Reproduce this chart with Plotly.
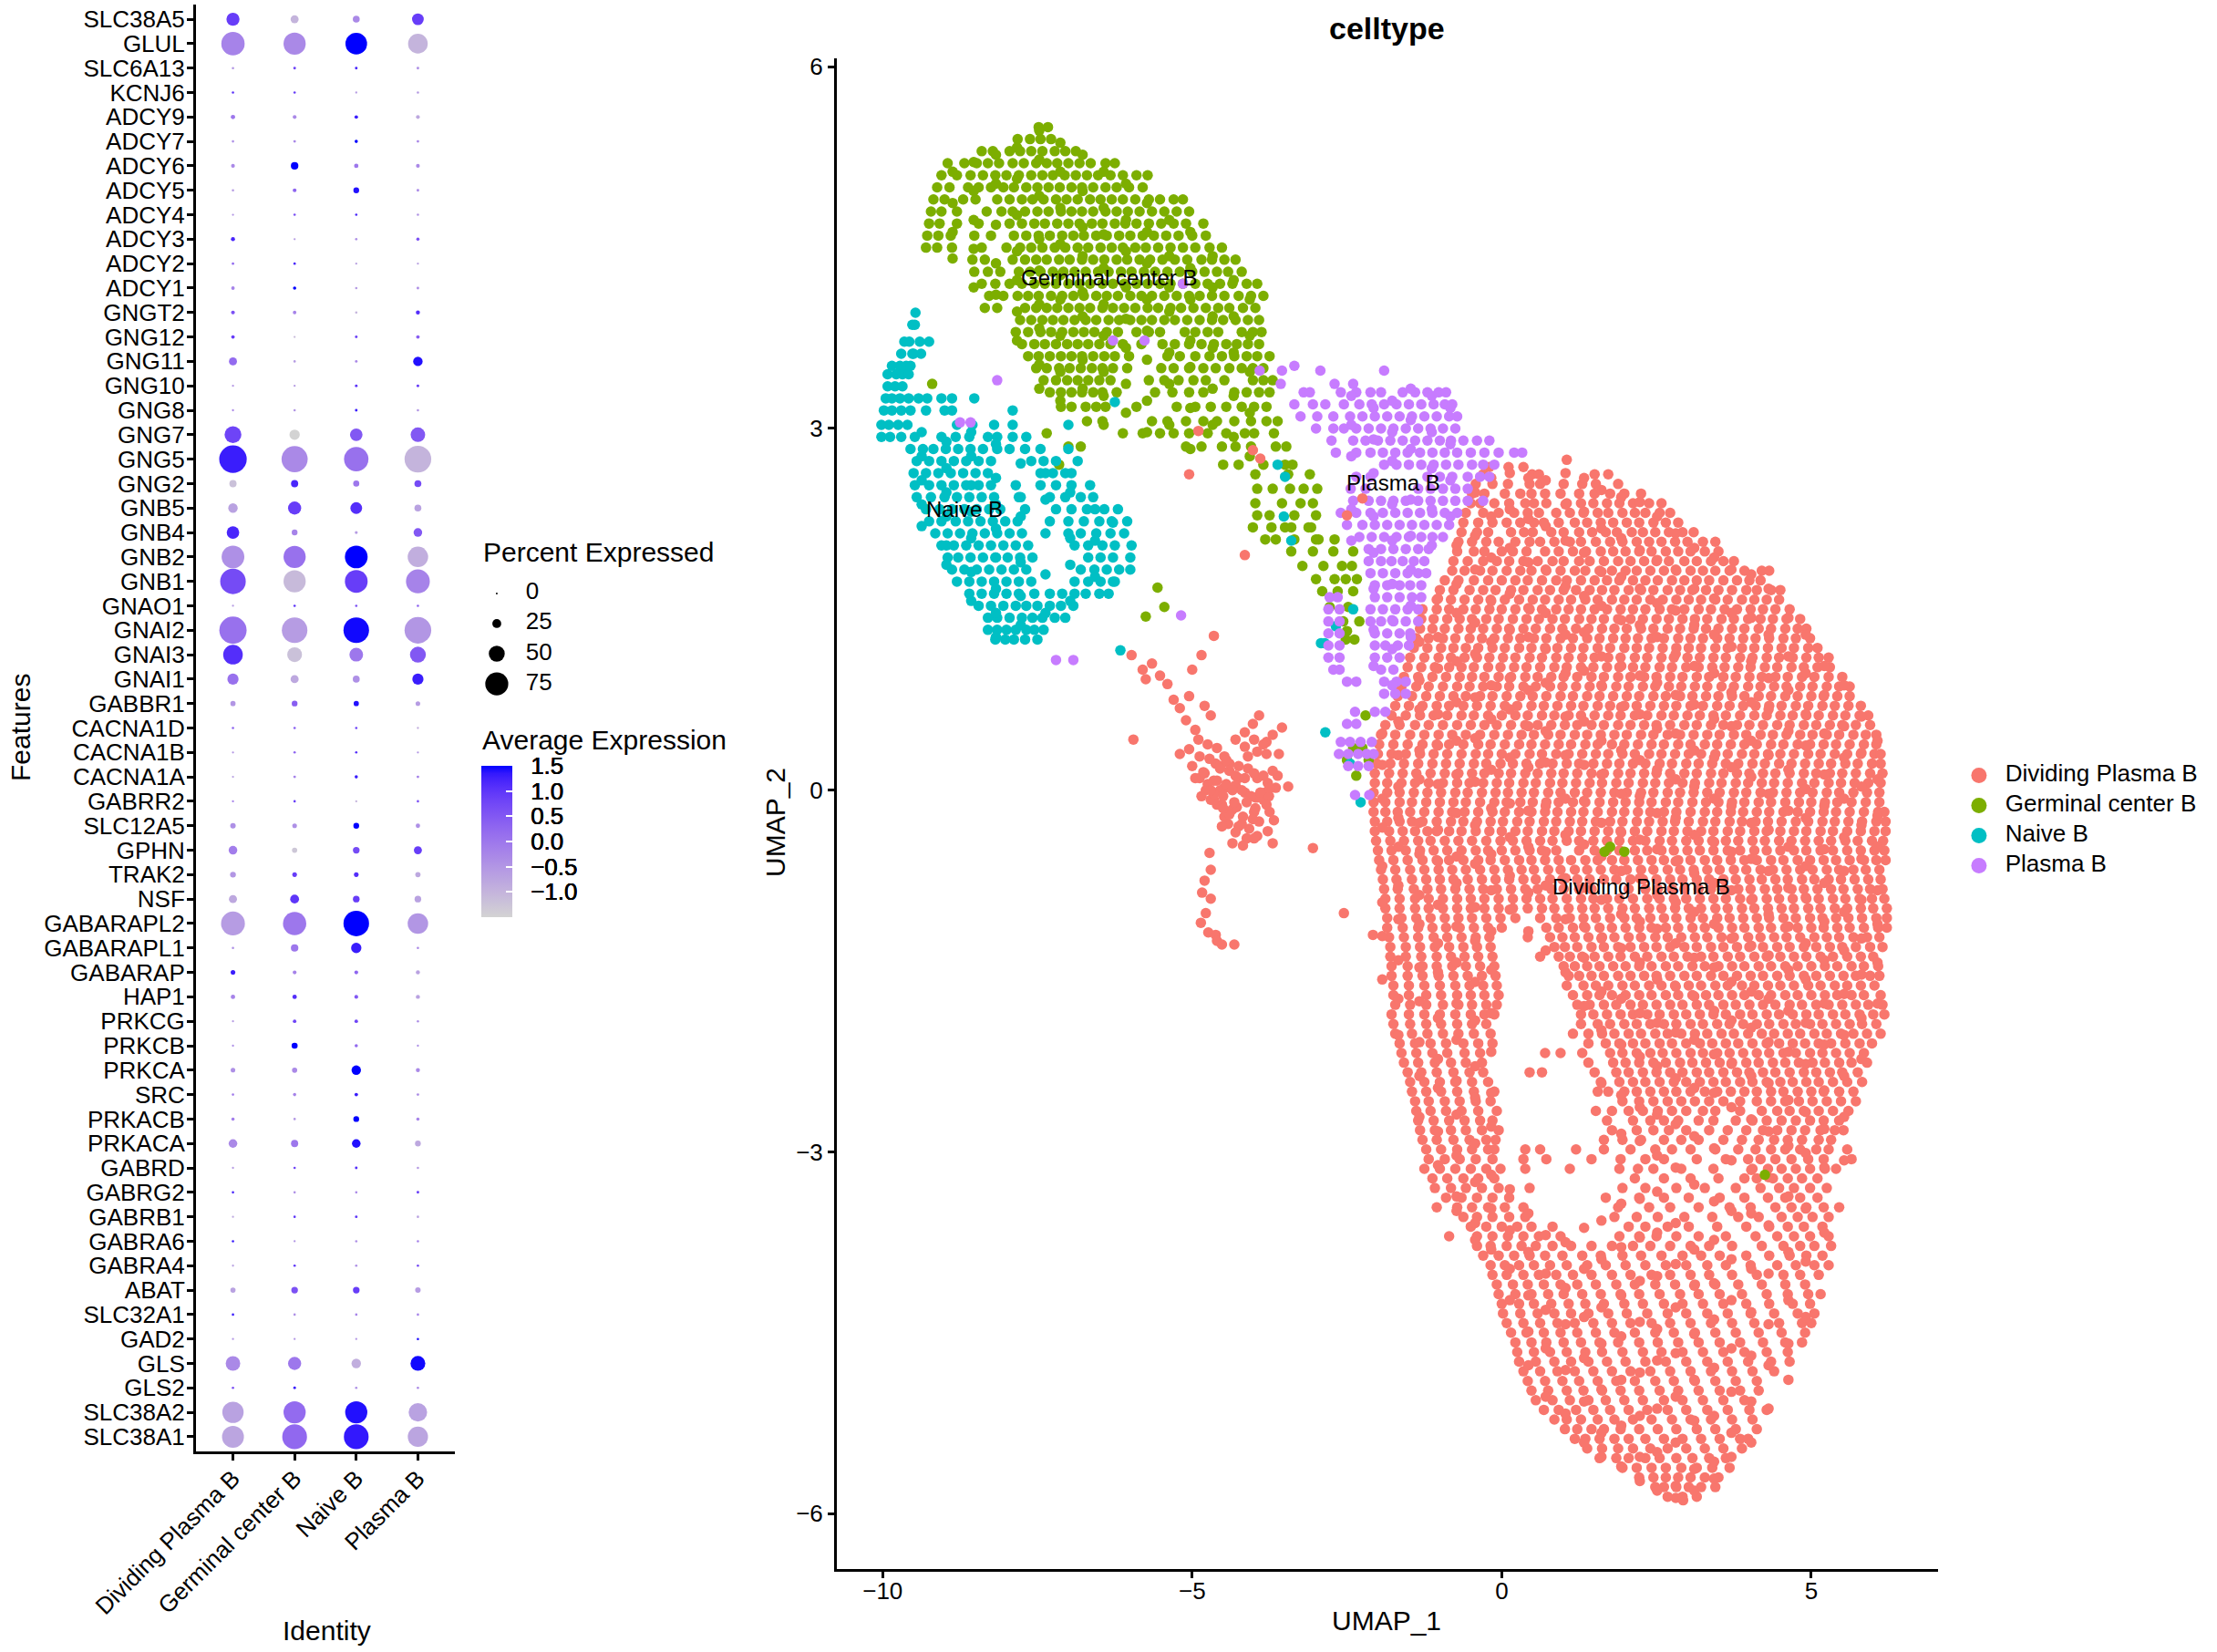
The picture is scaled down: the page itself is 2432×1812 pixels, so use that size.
import plotly.graph_objects as go

# ---------- Dot plot data ----------
identities = ["Dividing Plasma B", "Germinal center B", "Naive B", "Plasma B"]
genes = ["SLC38A5","GLUL","SLC6A13","KCNJ6","ADCY9","ADCY7","ADCY6","ADCY5","ADCY4","ADCY3","ADCY2","ADCY1",
         "GNGT2","GNG12","GNG11","GNG10","GNG8","GNG7","GNG5","GNG2","GNB5","GNB4","GNB2","GNB1","GNAO1",
         "GNAI2","GNAI3","GNAI1","GABBR1","CACNA1D","CACNA1B","CACNA1A","GABRR2","SLC12A5","GPHN","TRAK2",
         "NSF","GABARAPL2","GABARAPL1","GABARAP","HAP1","PRKCG","PRKCB","PRKCA","SRC","PRKACB","PRKACA",
         "GABRD","GABRG2","GABRB1","GABRA6","GABRA4","ABAT","SLC32A1","GAD2","GLS","GLS2","SLC38A2","SLC38A1"]
pct_dividing = [40,76,2,2,9,2,7,2,1,8,2,6,7,6,22,1,1,53,91,19,27,38,74,84,1,90,63,33,12,2,1,1,1,13,24,14,22,78,2,10,9,1,1,10,2,5,24,1,2,1,2,1,12,2,1,45,2,69,71]
pct_germinal = [22,72,3,2,7,3,20,7,2,1,2,5,6,1,2,1,2,30,86,19,40,14,72,72,2,84,46,22,14,2,2,3,2,10,12,10,25,76,20,7,9,6,15,12,5,2,19,2,2,2,1,2,17,2,1,40,3,72,81]
pct_naive = [18,70,3,1,6,5,9,14,2,2,1,2,2,3,3,3,3,38,80,15,35,4,74,74,2,84,42,18,12,2,2,5,1,14,17,10,17,84,30,7,7,6,5,27,6,14,24,3,2,3,2,2,17,2,1,27,2,72,81]
pct_plasma = [35,63,3,2,7,3,7,3,2,5,1,3,8,6,27,3,2,45,88,18,18,24,66,78,2,88,50,33,10,1,1,3,2,9,22,12,17,66,2,8,8,2,1,8,3,5,14,2,3,2,2,2,13,2,2,46,2,59,65]
avg_dividing = [.9,-.2,-.5,1.0,0,-.4,-.3,-.6,-.5,1.2,.2,-.2,.6,.9,.2,-.5,-.3,.8,1.3,-1.2,-.7,1.2,-.4,.7,-.6,.1,1.1,.1,-.5,.3,-.5,-.7,-.2,-.4,-.1,-.5,-.8,-.6,-.4,1.3,-.2,-.6,-.4,-.4,-.1,-.1,-.3,-.6,1.2,-.8,1.3,-.7,-.7,1.3,-.5,-.3,.6,-.7,-.75]
avg_germinal = [-1.0,-.3,.8,.9,-.3,-.3,1.5,.3,.6,-.6,1.2,1.5,-.2,-1.1,-.6,-.6,-.5,-1.5,-.3,1.2,.9,-.2,.1,-1.1,1.0,-.6,-1.2,-.8,.4,.4,.3,-.2,.9,-.4,-1.3,.9,1.0,0,0,-.2,1.1,.8,1.5,-.3,-.2,-.5,0,.8,-.4,1.0,-.5,1.0,.6,-.4,-.5,0,1.3,.2,.25]
avg_naive = [-.3,1.5,1.2,-.6,1.3,1.5,0,1.4,1.2,-.4,-.7,-.6,-1.0,.8,-.3,1.0,1.3,.5,.1,0,1.1,-.6,1.5,.9,.6,1.45,0,-.4,1.4,.8,1.1,1.3,-1.0,1.5,.7,1.1,.9,1.5,1.3,.3,.5,.8,.2,1.5,1.3,1.5,1.4,1.1,-.3,1.0,-.4,-.4,.9,-.2,-.5,-.9,-.4,1.4,1.35]
avg_plasma = [.9,-1.0,-.4,-.6,-.8,-.3,-.3,-.3,-.5,.6,-.7,-.4,1.1,.4,1.4,.9,-.5,.5,-1.0,.7,-.7,.5,-.9,-.2,.3,-.5,.5,1.3,-.6,-.9,-.5,-.2,.6,-.4,.9,-.8,-.7,-.5,-.3,-.7,-.7,-.4,-.4,-.3,-.4,-.2,-.8,-.6,.9,-.7,-.2,.7,-.6,-.2,1.4,1.45,-.3,-.7,-.75]
legend_pct = [0, 25, 50, 75]

# ---------- UMAP data: rows of (UMAP_2, [UMAP_1 ...]) and columns of (UMAP_1, [UMAP_2 ...]), in hundredths ----------
dividing_rows = [
(274,[105]),(268,[-20,11,35]),(262,[-30,49,60,150,172]),
(254,[-42,-15,10,45,62,100,130,152,188]),
(246,[-48,-28,5,30,48,70,95,125,150,175,198,225]),
(238,[-50,-35,-12,12,38,52,72,105,128,148,170,190,212,238,258]),
(230,[-58,-30,-5,20,42,60,88,110,132,155,172,195,215,232,255,272]),
(222,[-62,-38,-15,8,30,52,68,92,118,138,160,180,202,222,245,265,285]),
(214,[-65,-40,-22,15,36,50,80,100,125,146,168,186,210,228,248,270,292,310]),
(206,[-70,-48,-25,-5,22,45,62,85,110,128,152,175,195,218,238,258,280,300,325,345]),
(198,[-72,-45,-28,0,18,40,70,92,115,136,160,180,200,222,242,265,285,305,328,350]),
(190,[-78,-55,-30,-8,12,35,58,82,100,125,142,165,188,208,230,250,270,295,315,338,358,375]),
(182,[-80,-60,-35,-15,8,30,48,72,95,118,135,158,178,200,218,240,262,282,305,325,345,368,392,420,432]),
(174,[-92,-70,-45,-22,0,22,42,65,88,105,128,150,170,190,212,232,252,275,295,315,335,358,380,400,418]),
(166,[-100,-78,-52,-30,-10,15,35,58,78,100,120,142,162,182,205,225,245,268,288,308,330,350,372,395,412,435,450]),
(158,[-105,-82,-60,-38,-18,5,28,50,70,92,112,135,155,178,198,218,240,260,282,302,322,345,365,388,408,428,448]),
(150,[-128,-105,-85,-62,-42,-20,0,22,45,65,88,108,128,150,170,192,212,232,255,275,295,318,338,360,380,402,422,442,465]),
(142,[-130,-110,-88,-68,-48,-25,-5,18,40,60,82,102,125,145,165,188,208,228,250,270,292,312,332,355,375,398,418,438,460,482]),
(134,[-132,-112,-92,-70,-50,-30,-8,12,35,55,78,98,120,140,162,182,202,225,245,268,288,310,330,350,372,392,415,435,458,478,492]),
(126,[-138,-118,-95,-75,-52,-32,-12,10,30,52,72,95,115,138,158,180,200,220,242,262,285,305,325,348,368,390,410,432,455,475,498]),
(118,[-142,-120,-98,-78,-58,-38,-15,5,28,48,70,90,112,132,155,175,198,218,238,260,282,302,322,345,365,388,408,430,452,472,495,510]),
(110,[-148,-125,-102,-82,-60,-40,-20,2,22,45,65,88,108,130,150,172,192,215,235,258,278,300,320,342,362,385,405,428,448,470,492,512,528]),
(102,[-152,-130,-108,-85,-65,-45,-22,-2,20,40,62,85,105,128,148,170,190,212,232,255,275,298,318,340,360,382,402,425,445,468,488,510,530]),
(94,[-158,-135,-112,-90,-68,-48,-28,-5,15,38,58,80,100,122,145,165,188,208,230,250,272,292,315,335,358,378,400,420,442,462,485,505,528,550]),
(86,[-162,-138,-118,-95,-72,-52,-30,-8,12,35,55,78,98,120,142,162,185,205,228,248,270,290,312,332,355,375,398,418,440,460,482,502,525,545,562]),
(78,[-168,-145,-122,-100,-78,-58,-35,-15,8,30,50,72,95,115,138,158,180,202,222,245,265,288,308,330,350,372,392,415,435,458,478,500,520,542,562]),
(70,[-172,-150,-128,-105,-85,-62,-40,-18,5,25,48,68,90,112,132,155,175,198,218,240,262,282,305,325,348,368,390,410,432,452,475,495,518,538,560,580]),
(62,[-178,-155,-132,-110,-88,-65,-45,-22,0,22,42,65,85,108,128,150,172,192,215,235,258,278,300,320,342,362,385,408,428,450,470,492,512,535,555,578,592]),
(54,[-188,-165,-140,-118,-95,-72,-50,-28,-8,15,38,58,80,102,122,145,165,188,208,230,250,272,295,315,338,358,380,400,422,445,465,488,508,530,550,572,595]),
(46,[-195,-172,-148,-125,-102,-80,-58,-35,-12,10,32,52,75,95,118,138,160,182,202,225,245,268,288,310,332,352,375,395,418,438,460,482,502,525,545,568,588,605]),
(38,[-198,-175,-152,-128,-105,-85,-62,-38,-18,5,28,48,70,92,112,135,155,178,198,220,242,262,285,305,328,348,370,392,412,435,455,478,498,520,540,562,585,605]),
(30,[-200,-178,-155,-132,-110,-88,-65,-42,-22,0,22,45,65,88,108,130,152,172,195,215,238,258,280,302,322,345,365,388,408,430,450,472,495,515,538,558,580,602,612]),
(22,[-202,-180,-158,-135,-112,-90,-68,-45,-25,-2,18,40,62,82,105,125,148,170,190,212,232,255,275,298,318,340,362,382,405,425,448,468,490,512,532,555,575,598,612]),
(14,[-205,-182,-160,-138,-115,-92,-70,-48,-28,-5,15,38,58,80,100,122,145,165,188,208,230,250,272,295,315,338,358,380,400,422,442,465,488,508,530,550,572,595,615]),
(6,[-205,-185,-162,-140,-118,-95,-72,-52,-30,-8,12,35,55,78,98,120,142,162,185,205,228,248,270,292,312,335,355,378,398,420,440,462,485,505,528,548,570,592,612]),
(-2,[-207,-185,-165,-142,-120,-98,-75,-55,-32,-10,10,32,52,75,95,118,138,160,182,202,225,245,268,288,310,332,352,375,395,418,438,460,482,502,525,545,568,590,610]),
(-10,[-207,-188,-165,-145,-122,-100,-78,-58,-35,-12,8,30,50,72,92,115,135,158,180,200,222,242,265,285,308,330,350,372,392,415,435,458,480,500,522,542,565,588,610]),
(-18,[-207,-188,-168,-148,-125,-102,-80,-60,-38,-15,5,28,48,70,90,112,132,155,178,198,220,240,262,282,305,328,348,370,390,412,432,455,478,498,520,540,562,585,608,618]),
(-26,[-205,-185,-165,-145,-128,-105,-82,-62,-40,-18,2,25,45,68,88,110,130,152,175,195,218,238,260,280,302,325,345,368,388,410,430,452,475,495,518,538,560,582,605,620]),
(-34,[-205,-182,-160,-140,-120,-105,-85,-65,-42,-20,0,22,42,65,85,108,128,150,172,192,215,235,258,278,300,322,342,365,385,408,428,450,472,492,515,535,558,580,602,620]),
(-42,[-203,-180,-158,-135,-115,-92,-70,-48,-25,-2,18,40,62,82,105,125,148,170,190,212,232,255,275,298,318,340,362,382,405,425,448,468,490,512,532,555,575,598,616]),
(-50,[-200,-178,-155,-132,-110,-88,-65,-42,-22,0,22,45,65,88,125,150,170,190,215,235,258,278,300,320,342,365,385,408,428,450,472,492,515,535,558,580,602,618]),
(-58,[-198,-175,-152,-128,-105,-85,-62,-38,-18,5,28,48,70,92,112,135,155,178,198,220,242,262,285,305,328,348,370,392,412,435,455,478,498,520,540,562,585,605,620]),
(-66,[-195,-172,-148,-125,-102,-80,-58,-35,-12,10,32,52,75,95,118,138,160,182,202,225,245,268,288,310,332,352,375,395,418,438,460,482,502,525,545,568,588,610]),
(-74,[-192,-170,-145,-122,-100,-78,-55,-32,-10,12,35,55,78,98,122,142,165,185,208,228,250,272,292,315,335,358,378,400,420,442,462,485,505,528,548,570,592,612]),
(-82,[-190,-168,-142,-120,-98,-75,-52,-30,-8,15,38,58,80,100,125,145,205,232,252,275,295,318,338,360,382,402,425,445,468,488,510,532,552,575,595,615]),
(-90,[-188,-165,-140,-118,-95,-72,-50,-28,-5,18,40,62,82,105,128,148,170,190,212,235,255,278,298,320,342,362,385,405,428,448,470,492,512,535,555,578,598,618]),
(-98,[-188,-165,-140,-118,-95,-72,-50,-28,-5,18,42,65,85,108,130,150,172,195,215,238,258,280,302,322,345,365,388,408,430,452,472,495,515,538,558,580,600,622]),
(-106,[-185,-162,-138,-115,-92,-70,-48,-25,-2,22,62,88,110,132,152,175,198,218,240,262,282,305,325,348,368,390,412,432,455,475,498,518,540,560,582,605,622]),
(-114,[-185,-160,-135,-112,-90,-68,-45,-22,0,72,92,115,135,158,178,200,222,242,265,285,308,328,350,372,392,415,435,458,478,500,520,542,562,585,608,622]),
(-122,[-182,-158,-135,-110,-88,-65,-42,-20,42,78,98,118,140,162,182,205,225,248,268,290,312,332,355,375,398,418,440,460,482,505,525,545,568,590,610]),
(-130,[-180,-155,-132,-108,-85,-62,-40,-18,85,102,122,145,165,188,208,230,250,272,295,315,338,358,380,400,422,445,465,488,508,530,550,572,595,615]),
(-138,[-180,-155,-130,-105,-82,-60,-38,-15,62,92,110,130,150,172,192,215,235,258,278,300,322,342,365,385,408,428,450,472,492,515,535,558,580,600]),
(-146,[-178,-152,-128,-105,-80,-58,-35,-12,100,118,138,158,180,200,222,242,265,285,308,328,350,372,392,415,435,458,478,500,522,542,565,585,608]),
(-154,[-178,-152,-128,-102,-78,-55,-32,-10,108,125,145,165,188,208,230,250,272,295,315,338,358,380,402,422,445,465,488,508,530,552,572,595,610]),
(-162,[-175,-150,-125,-100,-75,-52,-30,-8,105,132,152,172,195,215,238,258,280,302,322,345,365,388,408,430,450,472,495,515,538,558,580,602]),
(-170,[-175,-150,-122,-98,-72,-50,-28,-5,115,138,158,178,200,222,242,265,285,308,330,350,372,392,415,435,458,478,500,522,542,565,585,612]),
(-178,[-172,-148,-122,-95,-70,-48,-25,-8,122,142,165,185,208,228,250,272,292,315,335,358,378,400,422,442,465,485,508,528,550,572,592,615]),
(-186,[-178,-150,-125,-100,-75,-50,-28,-12,128,148,170,192,212,235,255,278,298,320,342,362,385,405,428,448,470,492,512,535,555,578,600,618]),
(-194,[-175,-148,-122,-98,-72,-48,-25,128,155,175,198,218,240,262,282,305,325,348,368,390,412,432,455,475,498,518,540,562,582,605]),
(-202,[-172,-145,-120,-95,-70,-45,-18,115,140,162,182,205,225,248,268,290,312,332,355,375,398,420,440,462,482,505,525,548,568,590,612]),
(-210,[-165,-140,-115,-90,-62,-38,-15,140,168,190,212,232,255,275,298,320,340,362,382,405,428,448,470,490,512,532,555,578,598]),
(-218,[-162,-138,-112,-88,-60,-35,70,95,130,175,195,218,240,260,282,305,325,348,368,390,412,432,455,475,498,518,540,562,585]),
(-226,[-158,-135,-108,-82,-58,-32,140,180,200,222,245,265,288,308,330,352,372,395,415,438,458,480,502,522,545,565,590]),
(-234,[-152,-130,-105,-78,-52,-30,45,65,150,185,205,228,250,272,292,315,335,358,380,400,422,442,465,488,508,530,550,575]),
(-242,[-148,-125,-100,-75,-48,-22,160,190,212,232,255,278,298,320,342,362,385,405,428,450,470,492,512,535,558,582]),
(-250,[-145,-122,-98,-72,-45,-12,155,172,198,218,240,262,282,305,328,348,370,392,412,435,455,478,500,520,545,568]),
(-258,[-140,-118,-92,-68,-42,-18,195,222,245,268,290,312,335,358,385,412,435,458,480,502,525,548,572]),
(-266,[-138,-115,-90,-65,-38,-8,152,178,205,228,252,275,298,325,345,385,420,445,465,488,512,535,560]),
(-274,[-135,-110,-85,-60,-35,-15,170,212,240,262,285,318,342,378,405,428,452,475,498,520,545]),
(-282,[-132,-108,-82,-58,-32,-5,178,218,245,270,298,335,365,395,422,445,468,490,515,538,552]),
(-290,[-128,-105,-78,-52,-25,-10,165,195,225,262,290,318,358,388,415,440,462,485,512,532]),
(-298,[-122,-98,-72,-48,-22,-12,38,62,120,165,208,248,275,305,345,382,410,435,458,482,508,528,558]),
(-306,[-118,-92,-68,-42,-15,35,72,145,192,232,262,315,362,398,418,442,468,495,520,565]),
(-314,[-125,-100,-75,-50,-25,-2,38,110,190,220,245,290,342,405,430,452,475,498,522,540]),
(-322,[-112,-88,-62,-38,-12,215,262,305,350,392,412,438,462,485,510]),
(-330,[-108,-82,-58,-32,-5,45,195,232,282,328,378,418,448,472,498,525]),
(-338,[-90,-65,-40,-15,12,168,222,262,302,352,392,430,458,482,510]),
(-346,[-105,-72,-48,-22,5,35,188,238,272,318,368,402,442,468,492,520,545]),
(-354,[-62,-40,-15,12,38,182,218,252,295,340,382,415,452,478,502,528]),
(-362,[-50,-25,0,25,48,82,205,232,268,302,348,395,432,462,488,518]),
(-370,[-85,-40,-15,10,35,60,95,190,222,250,282,318,362,410,445,472,498,528]),
(-378,[-40,-18,8,32,55,82,112,145,178,212,240,272,305,335,372,420,455,482,505,532]),
(-386,[-30,-5,20,45,70,98,130,160,195,225,258,292,322,352,395,432,465,492,518]),
(-394,[-18,5,28,52,78,105,138,168,200,232,265,298,332,362,402,445,475,505,528]),
(-402,[-15,8,35,60,88,115,145,178,208,242,272,305,335,372,412,455,482,512]),
(-410,[-8,18,42,68,95,122,152,185,215,248,280,312,345,382,420,458,490]),
(-418,[-5,22,48,75,100,130,160,192,222,255,288,318,352,388,428,462,495,515]),
(-426,[0,28,52,80,108,135,165,198,228,262,292,325,358,395,432,470,498]),
(-434,[2,30,58,85,112,140,172,202,235,268,298,332,365,402,440,478,505]),
(-442,[8,35,62,90,118,148,178,208,242,272,305,338,372,408,448,485,500]),
(-450,[15,40,68,95,122,152,182,215,248,278,312,345,378,415,452,490]),
(-458,[22,48,72,100,128,158,188,222,252,285,318,352,385,422,458,485]),
(-466,[25,52,78,105,135,162,195,228,258,292,325,358,392,428,462]),
(-474,[28,55,85,112,140,170,200,232,265,298,332,365,398,435,465]),
(-482,[35,62,90,118,148,178,208,240,272,305,338,372,405,440]),
(-490,[42,70,98,125,155,185,215,248,278,312,345,378,412]),
(-498,[48,75,105,132,162,192,222,255,285,318,352,385,415]),
(-506,[55,82,110,140,168,198,228,262,292,325,358,392]),
(-514,[68,92,120,148,175,205,235,268,298,332,365,400,428]),
(-522,[85,105,128,155,182,212,242,275,305,338,372,405]),
(-530,[102,122,145,165,192,222,252,282,315,345,378,412]),
(-538,[118,135,158,182,205,232,262,292,322,352,385,398]),
(-546,[138,162,188,212,240,268,298,328,358,388]),
(-554,[158,185,205,232,255,282,308,335,362]),
(-562,[195,218,242,265,290,315,340,368]),
(-570,[222,245,265,285,305,328,350]),
(-578,[248,262,282,302,322,345]),
(-586,[268,292,315]),(-589,[293]),
]
dividing_cols = [
(-193,[47,21,-7,-31,-63,-93,-121,-157]),
(-167,[83,57,29,3,-23,-47,-79,-107,-141,-173,-203]),
(-133,[123,91,67,33,9,-27,-53,-87,-111,-147,-175,-209,-237,-271]),
(-103,[159,127,101,63,37,5,-33,-59,-95,-127,-151,-189,-223,-247,-283,-311]),
(-73,[203,171,147,107,73,41,13,-19,-55,-77,-113,-143,-177,-207,-241,-269,-303,-337,-349]),
(-43,[247,211,183,139,113,77,43,7,-29,-61,-97,-125,-159,-191,-229,-255,-293,-325,-359,-373]),
(-17,[259,227,193,157,123,87,59,17,-15,-53,-83,-117,-149,-185,-217,-251,-279,-319,-347,-381]),
(13,[263,233,201,163,133,93,67,27,-11,-39,-71,-99,-331,-365,-397,-423]),
(43,[259,225,189,151,127,83,53,19,-17,-47,-85,-117,-351,-383,-419,-449,-477]),
(71,[257,219,183,147,117,89,49,23,-13,-51,-79,-133,-369,-401,-431,-463,-503]),
(103,[263,237,207,169,129,97,61,29,-7,-37,-73,-107,-151,-375,-413,-443,-481,-517]),
(133,[259,231,197,161,131,99,57,21,-9,-45,-81,-113,-139,-179,-363,-397,-437,-471,-507,-541]),
(161,[249,217,181,153,111,87,41,13,-27,-55,-91,-123,-167,-199,-243,-357,-389,-429,-459,-497,-533,-553]),
(193,[243,209,177,141,103,69,33,-3,-35,-67,-103,-131,-173,-211,-253,-285,-343,-379,-419,-453,-489,-527,-561]),
(223,[239,199,167,137,95,63,25,-5,-41,-73,-109,-143,-185,-221,-263,-291,-339,-371,-407,-441,-483,-519,-553,-573]),
(251,[227,191,155,127,89,51,17,-19,-49,-87,-115,-157,-193,-229,-269,-303,-333,-367,-403,-447,-473,-513,-549,-581]),
(281,[213,183,149,113,79,47,9,-23,-59,-93,-127,-163,-201,-239,-277,-313,-359,-393,-429,-467,-503,-541,-577,-587]),
(311,[201,167,137,103,71,33,3,-37,-69,-101,-139,-171,-207,-247,-287,-327,-381,-411,-451,-489,-523,-563,-581]),
(343,[193,159,129,97,59,27,-7,-43,-77,-111,-147,-183,-219,-251,-297,-341,-373,-409,-439,-479,-519,-557,-571]),
(371,[183,147,119,81,53,19,-13,-51,-83,-123,-159,-191,-227,-263,-307,-349,-389,-423,-463,-499,-533,-553]),
(403,[179,143,107,73,41,11,-27,-57,-91,-129,-167,-197,-237,-273,-315,-351,-397,-433,-469,-507,-541]),
(431,[167,129,93,67,29,-3,-33,-67,-103,-137,-173,-209,-243,-283,-321,-361,-401,-443,-477,-513]),
(463,[143,111,83,49,17,-17,-47,-81,-113,-149,-183,-217,-257,-295,-337,-383,-423,-459,-489]),
(491,[129,97,63,37,1,-23,-63,-89,-127,-157,-193,-227,-267,-301,-347,-391,-437]),
(521,[103,79,47,13,-13,-49,-77,-109,-141,-177,-211,-249,-281,-313,-367]),
(553,[87,53,27,-7,-39,-67,-101,-133,-169,-203,-237,-271,-307]),
(581,[61,31,3,-29,-57,-91,-123,-153,-189,-223]),
(607,[41,9,-21,-47,-83,-111,-143,-177]),
]
germinal_rows = [
(550,[-748,-733]),(540,[-782,-762,-745,-728]),
(530,[-840,-822,-795,-778,-760,-742,-722,-705,-688]),
(520,[-895,-868,-848,-830,-812,-790,-772,-752,-735,-718,-700,-682,-664,-640,-625]),
(510,[-905,-880,-858,-838,-818,-800,-780,-760,-742,-725,-706,-688,-670,-652,-632,-612,-590,-572]),
(500,[-912,-892,-862,-845,-825,-805,-788,-768,-750,-732,-714,-695,-678,-660,-640,-622,-602,-580]),
(490,[-918,-900,-870,-850,-815,-795,-775,-758,-740,-720,-703,-685,-665,-648,-630,-612,-592,-570,-552,-530,-515]),
(480,[-922,-905,-880,-832,-808,-790,-770,-750,-732,-712,-695,-678,-660,-640,-622,-604,-585,-565,-545,-525,-505]),
(470,[-925,-908,-880,-845,-795,-775,-755,-738,-718,-700,-682,-662,-645,-625,-608,-590,-570,-550,-530,-510,-482]),
(460,[-928,-910,-890,-852,-825,-788,-768,-748,-730,-710,-692,-675,-655,-638,-618,-600,-580,-562,-542,-522,-500,-478]),
(450,[-930,-912,-888,-840,-800,-778,-760,-742,-722,-705,-685,-668,-648,-630,-612,-592,-575,-555,-535,-515,-495,-472,-452]),
(440,[-855,-835,-790,-770,-752,-735,-715,-698,-678,-660,-642,-622,-605,-585,-568,-548,-528,-508,-485,-468,-448,-430]),
(430,[-852,-830,-810,-780,-762,-745,-725,-708,-690,-672,-652,-635,-615,-598,-578,-560,-540,-520,-500,-480,-460,-442,-420]),
(420,[-840,-818,-795,-775,-755,-738,-720,-700,-682,-665,-645,-628,-610,-590,-572,-552,-535,-515,-495,-475,-455,-435,-412,-395]),
(410,[-828,-805,-782,-765,-748,-728,-710,-692,-675,-655,-638,-620,-600,-582,-565,-545,-525,-505,-488,-468,-448,-425,-405,-385]),
(400,[-835,-815,-770,-752,-735,-718,-700,-682,-665,-645,-628,-610,-592,-572,-555,-535,-518,-498,-478,-458,-440,-418,-398]),
(390,[-778,-760,-742,-725,-708,-690,-672,-655,-635,-618,-600,-582,-565,-545,-528,-508,-488,-468,-450,-430,-410,-392]),
(380,[-785,-765,-745,-728,-710,-692,-675,-658,-638,-620,-590,-570,-552,-512,-495,-475,-458,-420,-402,-388]),
(370,[-775,-755,-738,-720,-702,-685,-668,-650,-632,-612,-582,-548,-528,-505,-485,-465,-445,-428,-410,-392]),
(360,[-765,-748,-730,-712,-695,-678,-660,-642,-625,-602,-540,-520,-495,-472,-452,-432,-412,-395,-375]),
(350,[-752,-735,-715,-698,-680,-662,-645,-628,-605,-550,-530,-505,-482,-462,-440,-420,-402,-385]),
(340,[-740,-720,-702,-685,-668,-650,-632,-570,-545,-522,-498,-478,-448,-402,-385,-370]),
(330,[-730,-712,-695,-678,-660,-645,-622,-560,-532,-505,-482,-432,-412,-392,-375]),
(318,[-712,-695,-672,-655,-640,-590,-525,-495,-470,-445,-420,-400,-380]),
(306,[-670,-645,-565,-540,-510,-482,-460,-432,-405,-380,-362]),
(296,[-735,-612,-580,-552,-530,-505,-475,-445,-415,-400,-368]),
(285,[-700,-680,-510,-485,-452,-430,-405,-365,-348]),
(270,[-715,-450,-425,-385,-350,-338]),
(262,[-310,-345,-398]),(250,[-342,-320,-395,-370,-298]),
(238,[-325,-305,-355,-398]),(228,[-335,-300,-375,-395]),
(218,[-350,-312,-372,-402,-340,-308]),
(208,[-365,-335,-300,-270,-382,-296]),
(198,[-340,-305,-272,-240]),(186,[-322,-288,-258,-242]),
(175,[-300,-270,-252,-234]),(165,[-290,-265,-240]),(152,[-278,-248]),
(140,[-256,-230]),(132,[-250]),(125,[-252,-238]),
(168,[-556]),(152,[-545]),(144,[-575]),(337,[-920]),
(-47,[175]),(-51,[166,198]),(-319,[425]),
(35,[-240,-225]),(12,[-235]),(25,[-250,-215]),(62,[-220]),
]
germinal_cols = [
(-887,[513,487,463,441]),(-853,[521,497,473,449,417]),(-817,[527,503,469,437,411]),
(-783,[533,507,477,447,423,397,373]),(-747,[547,523,493,457,431,403,383,353,333]),
(-713,[537,513,483,453,427,407,377,347,323]),(-677,[527,497,467,443,413,393,357,333]),
(-643,[513,483,461,433,403,377,347,327,303]),(-607,[503,473,447,417,391,367,337,313]),
(-573,[487,463,437,407,381,357,323,297]),(-537,[473,443,417,397,363,337,303]),
(-503,[463,433,407,373,351,317,283]),(-467,[443,417,393,367,333,303]),(-433,[423,393,363,327,293]),
(-407,[407,377,347,313,277]),
]
naive_rows = [
(396,[-947]),(386,[-948,-952]),(372,[-957,-965,-940,-925]),(362,[-970,-950,-938,-952]),
(352,[-985,-972,-962,-955]),(345,[-992,-978,-968,-958]),(335,[-992,-980,-968]),
(325,[-995,-985,-972,-958,-852,-942,-928,-905,-888]),
(315,[-998,-985,-970,-955,-930,-900,-790,-888]),
(303,[-1002,-990,-975,-960,-880,-855,-820,-790,-700]),
(293,[-1002,-988,-970,-948,-905,-882,-860,-830,-815,-790,-768]),
(283,[-955,-935,-918,-898,-878,-858,-838,-815,-795,-770,-745,-700]),
(273,[-945,-925,-905,-885,-865,-845,-825,-760,-740,-720,-685]),
(263,[-950,-930,-910,-890,-870,-850,-830,-745,-725,-705,-695]),
(253,[-948,-925,-905,-885,-865,-845,-825,-785,-745,-720,-695,-665]),
(243,[-945,-922,-900,-880,-860,-840,-820,-780,-730,-705,-680,-660]),
(233,[-930,-908,-888,-868,-848,-828,-810,-770,-720,-695,-670,-642,-620]),
(223,[-925,-905,-882,-862,-842,-822,-802,-782,-730,-700,-675,-650,-630,-605]),
(213,[-915,-895,-875,-855,-835,-815,-795,-775,-700,-680,-655,-632,-610]),
(203,[-905,-885,-865,-845,-825,-805,-785,-765,-690,-668,-645,-625,-598]),
(193,[-895,-878,-858,-838,-818,-798,-778,-758,-668,-648,-628,-600]),
(183,[-888,-868,-848,-828,-808,-788,-768,-680,-658,-638,-618,-600]),
(173,[-880,-860,-840,-820,-800,-780,-760,-690,-668,-648,-628,-625]),
(163,[-860,-840,-820,-800,-780,-755,-730,-710,-690,-672,-650,-635]),
(153,[-845,-825,-805,-785,-768,-750,-730,-712,-692]),
(143,[-830,-815,-795,-775,-758,-742,-722,-705]),
(133,[-830,-815,-800,-785,-768,-755,-740]),(125,[-818,-802,-788,-770,-750]),
(116,[-616]),(207,[-340]),(227,[-352]),(136,[-268]),(122,[-292,-286]),(22,[-245]),(-10,[-228]),(48,[-285]),(270,[-362]),(150,[-240]),(222,[-628]),(260,[-350]),(322,[-625]),
]
naive_cols = [
(-937,[297,277,257,237,219]),(-897,[289,267,247,227,203,187]),(-857,[297,277,253,231,209,181,157]),
(-817,[287,259,237,217,193,167,147,127]),(-777,[271,243,227,189,161,137]),(-737,[263,241,213,179,147]),
(-697,[247,209,187,157]),(-657,[233,207,177]),
]
plasma_rows = [
(352,[-335]),(348,[-391,-355,-293,-190]),(337,[-357,-270,-240]),
(330,[-320,-310,-260,-235,-212,-195,-160,-140,-120,-102,-90]),
(320,[-335,-305,-285,-255,-230,-210,-190,-170,-150,-130,-110,-92,-80]),
(310,[-325,-298,-272,-245,-225,-205,-185,-165,-145,-125,-105,-85,-72]),
(300,[-300,-272,-255,-235,-215,-195,-175,-155,-135,-115,-95,-75]),
(290,[-275,-240,-220,-200,-180,-160,-140,-120,-100,-82,-62,-40,-20]),
(280,[-268,-235,-212,-192,-172,-152,-132,-112,-92,-72,-50,-28,-5,20,33]),
(270,[-190,-170,-150,-130,-110,-90,-70,-48,-30,-12]),
(260,[-235,-212,-120,-100,-80,-55,-35,-20]),
(250,[-244,-220,-135,-115,-95,-75,-55]),
(240,[-240,-215,-195,-175,-155,-135,-115,-95,-75,-55,-30]),
(230,[-260,-235,-212,-192,-172,-152,-132,-112,-92,-72]),
(220,[-250,-225,-205,-185,-165,-145,-125,-105,-85]),
(210,[-230,-210,-190,-170,-150,-130,-112,-95]),
(200,[-215,-195,-175,-155,-135,-118]),(190,[-215,-195,-178,-160,-142,-125]),
(180,[-212,-192,-172,-152,-135,-122]),(170,[-205,-185,-165,-148,-130]),
(160,[-278,-265,-205,-185,-165,-145,-130]),(150,[-280,-262,-212,-192,-172,-152,-135]),
(140,[-280,-262,-212,-195,-175,-155,-135]),(130,[-280,-262,-205,-185,-165,-148]),
(120,[-280,-262,-205,-188,-168,-150]),(110,[-280,-262,-205,-185,-165]),
(100,[-272,-262,-195,-175]),(90,[-250,-235,-190,-170,-155]),(80,[-190,-172,-155]),
(65,[-237,-205,-188]),(55,[-250,-235]),(40,[-260,-245,-228,-210]),
(30,[-263,-248,-232,-218,-207]),(20,[-248,-232,-215]),(-4,[-237,-214]),(373,[-577,-628]),(340,[-815]),(145,[-518]),
(305,[-875,-858]),(108,[-720,-692]),(420,[-515]),
]
plasma_cols = [
(-243,[327,303,277,233,207]),(-207,[317,291,263,227,197,167,133,103]),(-177,[323,297,273,237,207,171,141,117,87]),
(-147,[333,307,283,241,211,183,153,127]),(-113,[327,297,267,233,203]),(-83,[317,287,257,227]),
]
dividing_strays_x = [-598,-580,-565,-575,-552,-540,-530,-520,-510,-505,-495,-490,-475,-470,-480,-462,-448,-430,-415,-402,-392,-380,-370,-360,-355,-520,-505,-488,-472,-455,-440,-425,-410,-395,-378,-362,-500,-482,-465,-448,-430,-415,-398,-382,-365,-488,-470,-452,-435,-418,-400,-385,-368,-478,-460,-442,-425,-408,-392,-375,-465,-448,-430,-412,-395,-378,-452,-435,-418,-400,-440,-420,-402,-395,-376,-370,-470,-480,-484,-470,-478,-486,-474,-462,-460,-452,-432,-595,-500,-485,-465,-455,-472,-345,-305,-255,-208,-250,-225,-415,-402,-390,-505,-490,-475,-460,-445,-430,-415,-400,-385,-370,-495,-480,-465,-450,-435,-420,-405,-390,-375,-485,-470,-455,-440,-425,-410,-395,-380,-460,-445,-428,-412,-398,-380,-450,-432,-415,-400,-385]
dividing_strays_y = [112,100,105,92,95,88,75,68,58,78,50,42,38,62,70,22,28,42,48,55,62,40,46,30,52,30,34,28,26,20,16,10,18,10,6,12,20,15,8,2,4,-2,-6,-2,2,10,-8,-12,-16,-22,-18,-8,-25,0,-12,-28,-30,-32,-26,-18,-8,-22,-35,-40,-38,-34,-30,-44,-46,-40,-20,-28,-24,-6,-5,-44,-66,-75,-85,-90,-102,-110,-118,-120,-125,-128,-128,42,100,112,128,0,-52,3,-48,-102,-120,228,242,195,282,275,262,298,5,8,5,12,10,14,12,16,10,14,-3,-5,0,0,-5,-2,2,-5,0,18,22,20,28,32,30,35,25,-14,-10,-15,-12,-15,-10,36,42,38,44,30]
label_names = ["Germinal center B", "Naive B", "Plasma B", "Dividing Plasma B"]
label_x = [-6.34, -8.68, -1.75, 2.26]
label_y = [4.25, 2.33, 2.55, -0.80]

# ---------- Expand rows and columns to plain coordinates ----------
def expand(rows, cols=()):
    xs, ys = [], []
    for y, row in rows:
        for x in row:
            xs.append(x / 100)
            ys.append(y / 100)
    for x, col in cols:
        for y in col:
            xs.append(x / 100)
            ys.append(y / 100)
    return xs, ys

# ---------- ggplot-style Lab gradient lightgrey -> blue ----------
def _to_lab(rgb):
    c = [(v / 255) for v in rgb]
    c = [v / 12.92 if v <= .04045 else ((v + .055) / 1.055) ** 2.4 for v in c]
    X = (.4124 * c[0] + .3576 * c[1] + .1805 * c[2]) / .95047
    Y = .2126 * c[0] + .7152 * c[1] + .0722 * c[2]
    Z = (.0193 * c[0] + .1192 * c[1] + .9505 * c[2]) / 1.08883
    f = lambda t: t ** (1 / 3) if t > .008856 else 7.787 * t + 16 / 116
    return 116 * f(Y) - 16, 500 * (f(X) - f(Y)), 200 * (f(Y) - f(Z))

def _from_lab(L, a, b):
    fy = (L + 16) / 116
    g = lambda t: t ** 3 if t ** 3 > .008856 else (t - 16 / 116) / 7.787
    X, Y, Z = .95047 * g(fy + a / 500), g(fy), 1.08883 * g(fy - b / 200)
    r = 3.2406 * X - 1.5372 * Y - .4986 * Z
    gg = -.9689 * X + 1.8758 * Y + .0415 * Z
    bb = .0557 * X - .2040 * Y + 1.0570 * Z
    out = []
    for v in (r, gg, bb):
        v = max(0, min(1, v))
        v = 12.92 * v if v <= .0031308 else 1.055 * v ** (1 / 2.4) - .055
        out.append(round(v * 255))
    return "rgb(%d,%d,%d)" % tuple(out)

lo, hi = _to_lab((211, 211, 211)), _to_lab((0, 0, 255))
colorscale = [[i / 20, _from_lab(*[lo[k] + (hi[k] - lo[k]) * i / 20 for k in range(3)])] for i in range(21)]

# ---------- Figure ----------
W, H = 2432, 1812
FONT = "Liberation Sans, Arial, sans-serif"
px = lambda v: v / W
py = lambda v: 1 - v / H
size_of = lambda p: 2 + 0.31 * p

fig = go.Figure()
for name, pct, avg in zip(identities, [pct_dividing, pct_germinal, pct_naive, pct_plasma],
                          [avg_dividing, avg_germinal, avg_naive, avg_plasma]):
    fig.add_trace(go.Scatter(
        x=[name] * len(genes), y=genes, mode="markers", showlegend=False, xaxis="x", yaxis="y",
        marker=dict(size=[size_of(p) for p in pct], sizemode="diameter", opacity=1, color=avg, cmin=-1.5, cmax=1.5,
                    colorscale=colorscale, line=dict(width=0),
                    colorbar=dict(x=px(528), xanchor="left", xpad=0, y=py(923), yanchor="middle", ypad=0,
                                  lenmode="pixels", len=166, thicknessmode="pixels", thickness=34,
                                  outlinewidth=0, tickmode="array", tickvals=[-1, -.5, 0, .5, 1, 1.5],
                                  ticktext=["\u00a0\u00a0\u22121.0", "\u00a0\u00a0\u22120.5", "\u00a0\u00a00.0",
                                            "\u00a0\u00a00.5", "\u00a0\u00a01.0", "\u00a0\u00a01.5"],
                                  ticks="inside", ticklen=7, tickwidth=1.5, tickcolor="white",
                                  tickfont=dict(size=26, color="black", family=FONT)))))

colors = {"Dividing Plasma B": "#F8766D", "Germinal center B": "#7CAE00", "Naive B": "#00BFC4", "Plasma B": "#C77CFF"}
DOT = 11.5
dx, dy = expand(dividing_rows, dividing_cols)
fig.add_trace(go.Scatter(x=dx, y=dy, mode="markers", showlegend=False, xaxis="x2", yaxis="y2",
                         marker=dict(size=DOT, opacity=1, color=colors["Dividing Plasma B"])))
for name, rows, cols in [("Germinal center B", germinal_rows, germinal_cols), ("Naive B", naive_rows, naive_cols),
                         ("Plasma B", plasma_rows, plasma_cols)]:
    gx, gy = expand(rows, cols)
    fig.add_trace(go.Scatter(x=gx, y=gy, mode="markers", showlegend=False, xaxis="x2", yaxis="y2",
                             marker=dict(size=DOT, opacity=1, color=colors[name])))
fig.add_trace(go.Scatter(x=[v / 100 for v in dividing_strays_x], y=[v / 100 for v in dividing_strays_y],
                         mode="markers", showlegend=False, xaxis="x2", yaxis="y2",
                         marker=dict(size=DOT, opacity=1, color=colors["Dividing Plasma B"])))

# size legend
fig.add_trace(go.Scatter(x=[0.088] * 4, y=legend_pct, mode="markers", showlegend=False, xaxis="x3", yaxis="y3",
                         marker=dict(size=[size_of(p) for p in legend_pct], opacity=1, color="black", line=dict(width=0))))
fig.add_trace(go.Scatter(x=[0.275] * 4, y=legend_pct, mode="text", text=[str(p) for p in legend_pct],
                         textposition="middle right", textfont=dict(size=26, color="black", family=FONT),
                         showlegend=False, xaxis="x3", yaxis="y3"))

# cell-type legend
fig.add_trace(go.Scatter(x=[0.04] * 4, y=identities, mode="markers", showlegend=False, xaxis="x4", yaxis="y4",
                         marker=dict(size=17, opacity=1, color=[colors[n] for n in identities])))
fig.add_trace(go.Scatter(x=[0.146] * 4, y=identities, mode="text", text=identities, textposition="middle right",
                         textfont=dict(size=26, color="black", family=FONT), showlegend=False, xaxis="x4", yaxis="y4",
                         cliponaxis=False))

axis_common = dict(showgrid=False, zeroline=False, showline=True, linecolor="black", linewidth=3,
                   ticks="outside", ticklen=7, tickwidth=3, tickcolor="black",
                   tickfont=dict(size=26, color="black", family=FONT))

def note(text, x, y, size=30, xanchor="center", **kw):
    return dict(text=text, xref="paper", yref="paper", x=px(x), y=py(y), showarrow=False, xanchor=xanchor,
                yanchor="middle", font=dict(size=size, color="black", family=FONT), **kw)

annotations = [
    note("Features", 23, 798, textangle=-90),
    note("Identity", 358, 1788),
    note("UMAP_1", 1521, 1777),
    note("UMAP_2", 850, 902, textangle=-90),
    note("<b>celltype</b>", 1521, 31, size=34),
    note("Percent Expressed", 528, 605, xanchor="left"),
    note("Average Expression", 527, 811, xanchor="left"),
]
for t, x, y in zip(label_names, label_x, label_y):
    annotations.append(dict(text=t, x=x, y=y, xref="x2", yref="y2", showarrow=False,
                            font=dict(size=24, color="black", family=FONT)))

fig.update_layout(
    width=W, height=H, margin=dict(l=0, r=0, t=0, b=0, autoexpand=False), paper_bgcolor="white", plot_bgcolor="white",
    font=dict(family=FONT, color="black"), showlegend=False,
    xaxis=dict(domain=[px(215), px(499)], type="category", categoryorder="array", categoryarray=identities,
               tickmode="array", tickvals=identities, range=[-.6, 3.6], tickangle=-45, anchor="y",
               ticklabelstandoff=-6, **axis_common),
    yaxis=dict(domain=[py(1592), py(5)], type="category", categoryorder="array", categoryarray=genes[::-1],
               tickmode="array", tickvals=genes, range=[-.6, 58.6], anchor="x", ticklabelstandoff=-3, **axis_common),
    xaxis2=dict(domain=[px(918), px(2125.5)], range=[-10.74, 7.04], tickvals=[-10, -5, 0, 5], anchor="y2",
                ticklabelstandoff=-8, **axis_common),
    yaxis2=dict(domain=[py(1721), py(64)], range=[-6.46, 6.07], tickvals=[-6, -3, 0, 3, 6], anchor="x2", **axis_common),
    xaxis3=dict(domain=[px(530), px(700)], range=[0, 1], visible=False, anchor="y3"),
    yaxis3=dict(domain=[py(766), py(635)], range=[87, -12], visible=False, anchor="x3"),
    xaxis4=dict(domain=[px(2160), px(2432)], range=[0, 1], visible=False, anchor="y4"),
    yaxis4=dict(domain=[py(966), py(834)], type="category", categoryorder="array", categoryarray=identities,
                range=[3.5, -.5], visible=False, anchor="x4"),
    annotations=annotations,
)
fig.write_html("out.html", config={"displayModeBar": False}, post_script="document.body.style.margin='0';")
